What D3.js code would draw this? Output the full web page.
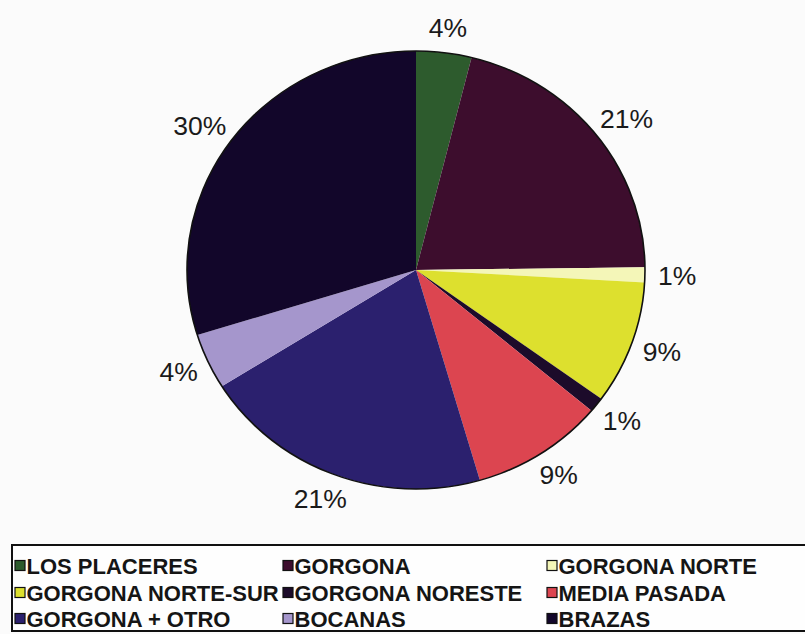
<!DOCTYPE html>
<html>
<head>
<meta charset="utf-8">
<script src="https://cdn.jsdelivr.net/npm/d3@7/dist/d3.min.js"></script>
<style>
  html, body { margin: 0; padding: 0; background: #fbfbfb; }
  svg { display: block; }
</style>
</head>
<body>
<svg id="chart" width="805" height="634"></svg>
<script>
const categories = ["LOS PLACERES", "GORGONA", "GORGONA NORTE", "GORGONA NORTE-SUR", "GORGONA NORESTE", "MEDIA PASADA", "GORGONA + OTRO", "BOCANAS", "BRAZAS"];
const values = [3.9, 20.9, 1.1, 9.1, 1.1, 9.4, 20.6, 4.1, 29.8];
const colors = ["#2d5b2d", "#3d0d2d", "#f4f6b8", "#dde02e", "#1c0b2a", "#dc4550", "#2b206e", "#a596cc", "#12062a"];

const svg = d3.select("#chart");
const W = 805, H = 634;
svg.append("rect").attr("width", W).attr("height", H).attr("fill", "#fbfbfb");

const cx = 416, cy = 270, R = 219, sx = 229 / 219;
const total = d3.sum(values);
const pie = d3.pie().sort(null).value(d => d)(values);
const arc = d3.arc().innerRadius(0).outerRadius(R);

const g = svg.append("g").attr("transform", `translate(${cx},${cy}) scale(${sx},1)`);
g.selectAll("path.slice").data(pie).enter().append("path")
  .attr("class", "slice")
  .attr("d", arc)
  .attr("fill", (d, i) => colors[i]);
g.append("circle").attr("r", R).attr("fill", "none")
  .attr("stroke", "#111").attr("stroke-width", 1.6)
  .attr("vector-effect", "non-scaling-stroke");

// percentage labels
const fs = 26.5, gap = 13, halfH = 12;
const lg = svg.append("g");
pie.forEach((d, i) => {
  const a = (d.startAngle + d.endAngle) / 2;
  const s = Math.sin(a), c = Math.cos(a);
  const t = lg.append("text")
    .attr("font-family", "Liberation Sans, Arial, sans-serif")
    .attr("font-size", fs)
    .attr("fill", "#1a1a1a")
    .attr("text-anchor", "middle")
    .attr("dy", "0.36em")
    .text(Math.round(values[i] / total * 100) + "%");
  const w = t.node().getComputedTextLength();
  const ex = cx + s * R * sx, ey = cy - c * R;
  const x = ex + s * gap + s * w / 2;
  const y = ey - c * gap - c * halfH;
  t.attr("x", x).attr("y", y);
});

// legend
const legX = 12, legY = 545, legW = 820, legH = 86;
svg.append("rect").attr("x", legX).attr("y", legY).attr("width", legW).attr("height", legH)
  .attr("fill", "#fefefe").attr("stroke", "#111").attr("stroke-width", 2);

const colX = [15, 283, 547];
const rowY = [566, 593, 619];
categories.forEach((name, i) => {
  const col = i % 3, row = Math.floor(i / 3);
  const x = colX[col], y = rowY[row];
  svg.append("rect").attr("x", x).attr("y", y - 5.5).attr("width", 10).attr("height", 10)
    .attr("fill", colors[i]).attr("stroke", "#111").attr("stroke-width", 1.2);
  svg.append("text").attr("x", x + 11.5).attr("y", y).attr("dy", "0.36em")
    .attr("font-family", "Liberation Sans, Arial, sans-serif")
    .attr("font-weight", "bold").attr("font-size", 22)
    .attr("fill", "#151515")
    .text(name);
});
</script>
</body>
</html>
